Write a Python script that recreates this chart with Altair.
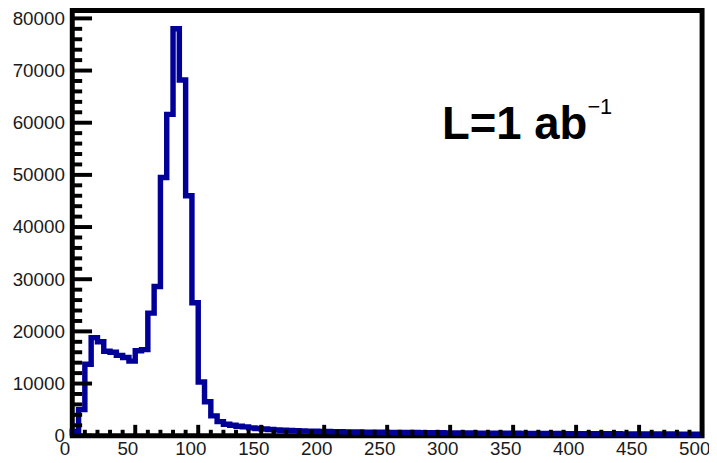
import altair as alt
import pandas as pd

# ---- data ----
bin_width = 5
bin_left = list(range(0, 500, 5))
counts = [
    800, 5000, 13700, 18800, 18000, 16200, 16000, 15400, 15000, 14300,
    16300, 16500, 23500, 28600, 49500, 61600, 78000, 68200, 46000, 25500,
    10300, 6500, 3800, 2700, 2200, 2000, 1800, 1700, 1500, 1400,
    1300, 1200,
    1100, 1050, 1000, 950, 900, 880, 850, 820, 800, 780,
    760, 740, 720, 700, 690, 680, 660, 650, 640, 630,
    620, 610, 600, 590, 580, 570, 560, 550, 540, 530,
    520, 510, 500, 495, 490, 480, 470, 465, 460, 450,
    445, 440, 430, 425, 420, 410, 405, 400, 395, 390,
    380, 375, 370, 365, 360, 355, 350, 345, 340, 335,
    330, 325, 320, 315, 310, 305, 300, 295,
]
x_major = list(range(0, 501, 50))
x_minor = [v for v in range(0, 501, 10) if v % 50 != 0]
y_major = list(range(0, 80001, 10000))
y_minor = [v for v in range(0, 80001, 2000) if v % 10000 != 0]

X_DOMAIN = [0, 500]
Y_DOMAIN = [0, 81500]
W, H = 637, 430

# step outline points
xs = [0] + bin_left + [500]
ys = [0] + counts + [counts[-1]]
hist = pd.DataFrame({"x": xs, "y": ys, "i": list(range(len(xs)))})

xs_scale = alt.Scale(domain=X_DOMAIN, nice=False, zero=False)
ys_scale = alt.Scale(domain=Y_DOMAIN, nice=False)

x_axis = alt.Axis(values=x_major, format="d", ticks=False, domain=False,
                  grid=False, labelFontSize=19, labelFont="Liberation Sans",
                  labelColor="#1a1a1a", labelPadding=4, labelOffset=-8,
                  labelFlush=False, labelOverlap=False, tickSize=0, title=None)
y_axis = alt.Axis(values=y_major, format="d", ticks=False, domain=False,
                  grid=False, labelFontSize=19, labelFont="Liberation Sans",
                  labelColor="#1a1a1a", labelPadding=8,
                  labelFlush=False, labelOverlap=False, tickSize=0, title=None)

line = alt.Chart(hist).mark_line(
    interpolate="step-after", color="#000099", strokeWidth=5.5,
    strokeJoin="miter", strokeCap="butt"
).encode(
    x=alt.X("x:Q", scale=xs_scale, axis=x_axis),
    y=alt.Y("y:Q", scale=ys_scale, axis=y_axis),
    order="i:Q",
)

def xticks(vals, length):
    df = pd.DataFrame({"x": vals})
    return alt.Chart(df).mark_rule(color="black", strokeWidth=4, strokeCap="butt").encode(
        x=alt.X("x:Q", scale=xs_scale, axis=x_axis),
        y=alt.value(H), y2=alt.value(H - length),
    )

def yticks(vals, length):
    df = pd.DataFrame({"y": vals})
    return alt.Chart(df).mark_rule(color="black", strokeWidth=4, strokeCap="butt").encode(
        y=alt.Y("y:Q", scale=ys_scale, axis=y_axis),
        x=alt.value(0), x2=alt.value(length),
    )

label_main = alt.Chart(pd.DataFrame({"t": ["L=1 ab"]})).mark_text(
    align="left", baseline="alphabetic", font="Liberation Sans", fontWeight="bold",
    fontSize=46, color="black"
).encode(text="t:N", x=alt.value(374), y=alt.value(130))

label_sup = alt.Chart(pd.DataFrame({"t": ["\u22121"]})).mark_text(
    align="left", baseline="alphabetic", font="Liberation Sans",
    fontSize=22, color="black"
).encode(text="t:N", x=alt.value(521), y=alt.value(105))

chart = alt.layer(
    line,
    xticks(x_minor, 6), xticks(x_major, 11),
    yticks(y_minor, 10), yticks(y_major, 20),
    label_main, label_sup,
).properties(
    width=W, height=H,
    autosize=alt.AutoSizeParams(type="none"),
    padding={"left": 65, "top": 0, "right": 7, "bottom": 25},
    background="white",
).configure_view(stroke="black", strokeWidth=5)

chart.save("out.html", embed_options={"renderer": "svg", "actions": False})
